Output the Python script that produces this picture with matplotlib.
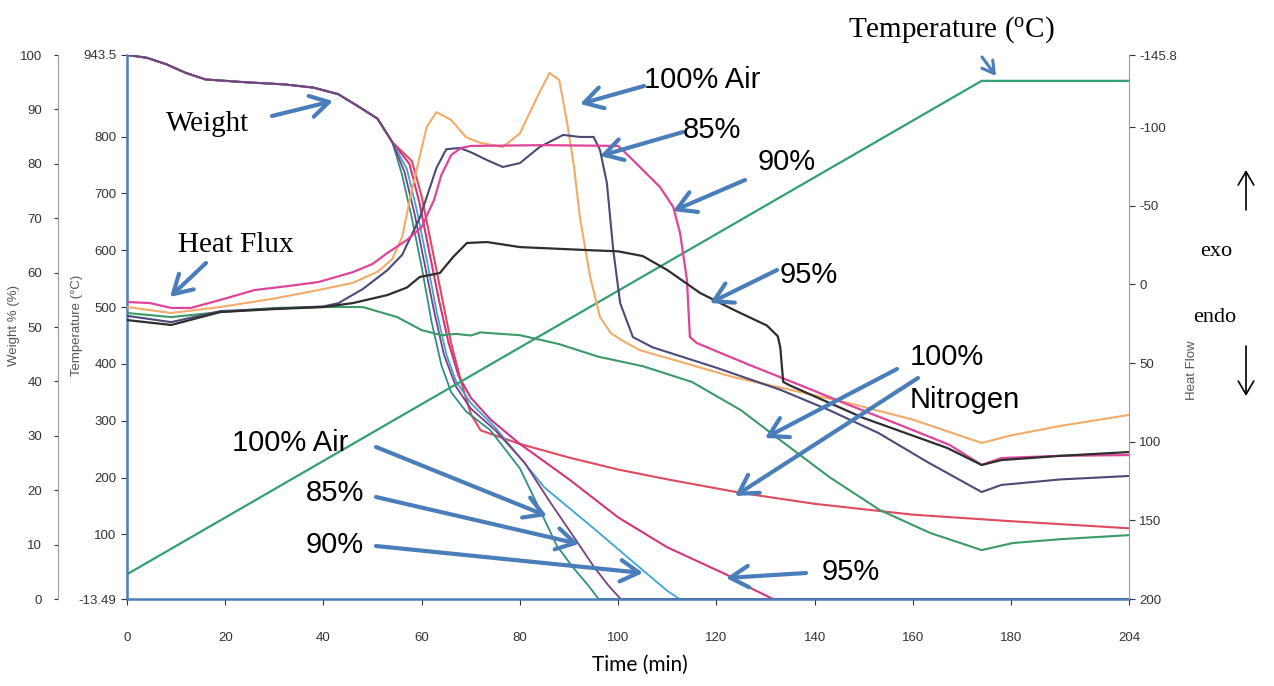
import matplotlib.pyplot as plt

W, H = 1274, 686

# ---- temperature programme (left inner axis, degC)
t_temp = [0, 174, 204]
temp_c = [30, 898, 898]

# ---- weight % curves (left outer axis)
t_early = [0, 4, 8, 12, 16, 24, 32, 38, 43, 47, 51, 54]
w_early = [100, 99.5, 98.3, 96.7, 95.5, 95, 94.6, 94, 92.8, 90.6, 88.3, 84]

t_w_air = [56, 58, 60, 62, 64, 66, 69, 74, 80, 84, 87.5, 90.8, 94, 96, 204]
w_air = [78, 70, 61, 51, 43, 38, 34.5, 31, 24, 16.5, 9.8, 5.8, 2.4, 0, 0]

t_w_85 = [56.5, 58.5, 60.5, 62.5, 64.5, 67, 70, 75, 81, 86, 91.8, 95, 98, 100.5, 204]
w_85 = [78.5, 71, 62, 53, 45, 39, 35, 31, 25, 18, 10.3, 6, 2.5, 0, 0]

t_w_90 = [57, 59, 61, 63, 65, 67, 70, 75, 80, 85, 95, 105, 110, 112.5, 204]
w_90 = [79, 71.5, 62.5, 53, 45, 40, 36, 31.5, 26, 20.5, 13, 5.3, 1.5, 0, 0]

t_w_95 = [57.5, 59.5, 61.5, 63.5, 65.5, 67.5, 70, 74, 80, 90, 100, 110, 116, 122, 127, 131.5, 204]
w_95 = [80, 73, 64, 55, 47, 41, 37, 33, 28.5, 22, 15, 9.5, 7, 4.5, 2, 0, 0]

t_w_n2 = [58, 60, 62, 64, 66, 68, 70, 72, 80, 90, 100, 110, 125, 140, 160, 180, 204]
w_n2 = [80.5, 74, 65, 56, 47, 40, 34, 31, 28.5, 26, 23.8, 22, 19.5, 17.5, 15.5, 14.3, 13]

# ---- heat flow curves (right axis, inverted)
t_hf_air = [0, 9, 19, 30, 39, 46, 51, 54, 56, 58, 61, 63, 66, 69, 72, 76.5, 80, 83.5, 86, 88,
            89.6, 91, 92.2, 94.3, 96.3, 98.5, 101, 104.4, 123.4, 135, 147, 160, 174, 180, 190, 204]
hf_air = [14.4, 18.2, 14.4, 9, 3.6, -1, -8, -16, -30, -60, -100, -109.5, -104.5, -93.6, -89.9, -87.3,
          -96, -119, -134.4, -130, -102.6, -75, -42.8, -4.6, 20.8, 31, 36, 41.8, 58.9, 67, 75.5, 86,
          100.8, 96, 90, 83]

t_hf_85 = [0, 9, 19, 30, 40, 43, 48, 53, 56, 59.6, 63, 65, 67.8, 70, 73.3, 76.5, 80, 84, 88.8, 92.2,
           95, 96.3, 97.7, 99, 100.4, 103, 107, 120, 133, 143, 153, 163, 174, 178, 190, 204]
hf_85 = [20, 24, 17, 15.5, 14, 12, 3, -9, -18.7, -42.2, -74, -85.9, -86.7, -84, -79, -74.6, -77.1,
         -87.3, -95, -93.7, -93.7, -85.4, -64.4, -21.8, 11.9, 33.5, 40, 53, 67, 80, 94.5, 113, 132,
         127.5, 124, 121.8]

t_hf_90 = [0, 4.7, 9, 13, 19, 26, 33, 39, 46, 50, 53, 57, 60, 62.5, 64, 66, 68, 70, 85, 100, 103,
           108.5, 111.2, 112.6, 114, 114.6, 116, 126.8, 137, 147, 157.4, 167.5, 174, 178, 190, 204]
hf_90 = [11.2, 11.9, 15, 15, 9.9, 3.6, 1, -1.5, -7.8, -13, -19.9, -28.2, -36.5, -53.6, -69.5, -82.2,
         -86.7, -88, -88.5, -88, -79, -61.9, -49.2, -32.6, -2.8, 33.5, 37.3, 51.3, 64, 76.7, 89.4,
         102.1, 114.8, 110.4, 109, 108.5]

t_hf_95 = [0, 9, 19, 30, 40, 46, 53, 57, 59.6, 63.7, 66.4, 69.2, 73.3, 80, 93.6, 100, 105, 110,
           116.7, 123.4, 130.3, 132.5, 133, 133.6, 135, 150, 167, 174, 178, 190, 204]
hf_95 = [22.7, 25.8, 17.6, 15.7, 14.4, 11.9, 6.8, 2, -4.7, -7.2, -17.4, -26.3, -26.9, -23.7, -21.8,
         -21, -18, -9.1, 5.5, 16, 26.2, 33, 40, 62, 64.3, 85, 104, 114.8, 111.7, 109, 106.6]

t_hf_n2 = [0, 9, 19, 30, 40, 48, 55, 60, 64, 67, 70, 72, 74, 80, 88, 96, 105, 115, 125, 133, 143,
           153.3, 163.5, 174, 180.4, 190, 204]
hf_n2 = [18.2, 20.8, 17.6, 15, 14.4, 14.4, 20.8, 29.1, 32.3, 31.5, 32.5, 30.5, 31, 32.3, 38, 46, 52,
         62, 80, 99, 122.5, 143.5, 158, 168.9, 164.4, 162, 159.4]

x_ticks = [0, 20, 40, 60, 80, 100, 120, 140, 160, 180, 204]
w_ticks = [0, 10, 20, 30, 40, 50, 60, 70, 80, 90, 100]
temp_ticks = [-13.49, 100, 200, 300, 400, 500, 600, 700, 800, 943.5]
temp_labels = ['-13.49', '100', '200', '300', '400', '500', '600', '700', '800', '943.5']
hf_ticks = [-145.8, -100, -50, 0, 50, 100, 150, 200]
hf_labels = ['-145.8', '-100', '-50', '0', '50', '100', '150', '200']

plt.rcParams['mathtext.fontset'] = 'custom'
plt.rcParams['mathtext.rm'] = 'Liberation Serif'

TICK_FONT = ['Liberation Sans Narrow', 'Liberation Sans', 'DejaVu Sans']
BLUE = '#4a7ebb'
GREY = '#9a9a9a'

fig = plt.figure(figsize=(W / 100, H / 100), dpi=100)
ax = fig.add_axes([127 / W, 87 / H, 1002 / W, 544 / H])
ax_t = ax.twinx()
ax_h = ax.twinx()

# weight curves
ax.plot(t_early + t_w_n2, w_early + w_n2, color='#e04a5e', lw=1.5)
ax.plot(t_early + t_w_95, w_early + w_95, color='#d0357f', lw=1.5)
ax.plot(t_early + t_w_90, w_early + w_90, color='#3aa6d6', lw=1.3)
ax.plot(t_early + t_w_air, w_early + w_air, color='#2f8f86', lw=1.3)
ax.plot(t_early + t_w_85, w_early + w_85, color='#7a3f80', lw=1.3)
ax.set_xlim(0, 204)
ax.set_ylim(0, 100)

# temperature
ax_t.plot(t_temp, temp_c, color='#32a070', lw=1.6)
ax_t.set_ylim(-13.49, 943.5)

# heat flow
ax_h.plot(t_hf_n2, hf_n2, color='#3a9a68', lw=1.5)
ax_h.plot(t_hf_air, hf_air, color='#f2ab68', lw=1.5)
ax_h.plot(t_hf_85, hf_85, color='#4b4a78', lw=1.5)
ax_h.plot(t_hf_90, hf_90, color='#e0449a', lw=1.6)
ax_h.plot(t_hf_95, hf_95, color='#2e2e2e', lw=1.6)
ax_h.set_ylim(200, -145.8)

# spines / ticks
for a in (ax, ax_t, ax_h):
    for s in a.spines.values():
        s.set_visible(False)

ax.spines['left'].set_visible(True)
ax.spines['left'].set_position(('outward', 50))
ax.spines['left'].set_color(GREY)
ax.spines['bottom'].set_visible(True)
ax.spines['bottom'].set_color(BLUE)
ax.spines['bottom'].set_linewidth(1.8)
ax.set_yticks(w_ticks)
ax.set_xticks(x_ticks)
ax.tick_params(axis='y', colors='#333333', length=3, pad=8, labelsize=9.5)
ax.tick_params(axis='x', colors='#333333', length=4, pad=20, labelsize=9.5)
for lbl in ax.get_yticklabels() + ax.get_xticklabels():
    lbl.set_family(TICK_FONT)
for tl in ax.xaxis.get_ticklines() + ax.yaxis.get_ticklines():
    tl.set_color(GREY)

ax_t.yaxis.tick_left()
ax_t.spines['left'].set_visible(True)
ax_t.spines['left'].set_color(BLUE)
ax_t.spines['left'].set_linewidth(1.8)
ax_t.set_yticks(temp_ticks)
ax_t.set_yticklabels(temp_labels, family=TICK_FONT)
ax_t.tick_params(axis='y', colors='#333333', length=4, labelsize=9.5)
for tl in ax_t.yaxis.get_ticklines():
    tl.set_color(GREY)

ax_h.spines['right'].set_visible(True)
ax_h.spines['right'].set_color(GREY)
ax_h.set_yticks(hf_ticks)
ax_h.set_yticklabels(hf_labels, family=TICK_FONT)
ax_h.tick_params(axis='y', colors='#333333', length=4, labelsize=9.5)
for tl in ax_h.yaxis.get_ticklines():
    tl.set_color(GREY)

# axis titles
fig.text(14 / W, 1 - 325 / H, 'Weight % (%)', rotation=90, ha='center', va='center',
         fontsize=9.5, color='#555555', family=TICK_FONT)
fig.text(77 / W, 1 - 325 / H, 'Temperature (°C)', rotation=90, ha='center', va='center',
         fontsize=9.5, color='#555555', family=TICK_FONT)
fig.text(1192 / W, 1 - 370 / H, 'Heat Flow', rotation=90, ha='center', va='center',
         fontsize=9.5, color='#555555', family=TICK_FONT)
fig.text(640 / W, 1 - 665 / H, 'Time (min)', ha='center', va='center', fontsize=15, family='Lato')


def fp(x, y):
    return (x, H - y)


def arrow(x1, y1, x2, y2, lw=3.0, color=BLUE, scale=22):
    ax_h.annotate('', xy=fp(x2, y2), xytext=fp(x1, y1), xycoords='figure pixels',
                  textcoords='figure pixels',
                  arrowprops=dict(arrowstyle='->,head_length=0.6,head_width=0.35', lw=lw,
                                  color=color, mutation_scale=scale, shrinkA=0, shrinkB=0))


def label(x, y, s, serif=False, size=21, ha='left'):
    fam = ['Liberation Serif'] if serif else ['Liberation Sans']
    fig.text(x / W, 1 - y / H, s, ha=ha, va='center', fontsize=size, family=fam, color='black')


# serif annotations
label(166, 124, 'Weight', serif=True)
arrow(272, 116, 333, 101)
label(178, 245, 'Heat Flux', serif=True)
arrow(206, 263, 170, 297)
label(848, 30, r'Temperature ($\mathrm{^{o}C}$)', serif=True)
arrow(982, 57, 996, 76, lw=2.2, scale=14)
label(1200, 252, 'exo', serif=True, size=16)
label(1193, 318, 'endo', serif=True, size=16)
arrow(1246, 210, 1246, 170, lw=1.2, color='black', scale=16)
arrow(1246, 346, 1246, 396, lw=1.2, color='black', scale=16)

# sans annotations, heat flow
label(644, 80, '100% Air')
arrow(644, 86, 580, 104)
label(683, 130, '85%')
arrow(683, 132, 600, 156)
label(758, 162, '90%')
arrow(745, 180, 673, 211)
label(780, 275, '95%')
arrow(777, 270, 710, 303)
label(910, 357, '100%')
label(910, 400, 'Nitrogen')
arrow(897, 369, 765, 438)
arrow(918, 378, 735, 496)

# sans annotations, weight
label(232, 443, '100% Air')
arrow(376, 447, 547, 516)
label(306, 493, '85%')
arrow(376, 497, 579, 544)
label(306, 545, '90%')
arrow(376, 546, 643, 573)
label(822, 572, '95%')
arrow(806, 573, 726, 578)

fig.savefig('out.png', dpi=100)
